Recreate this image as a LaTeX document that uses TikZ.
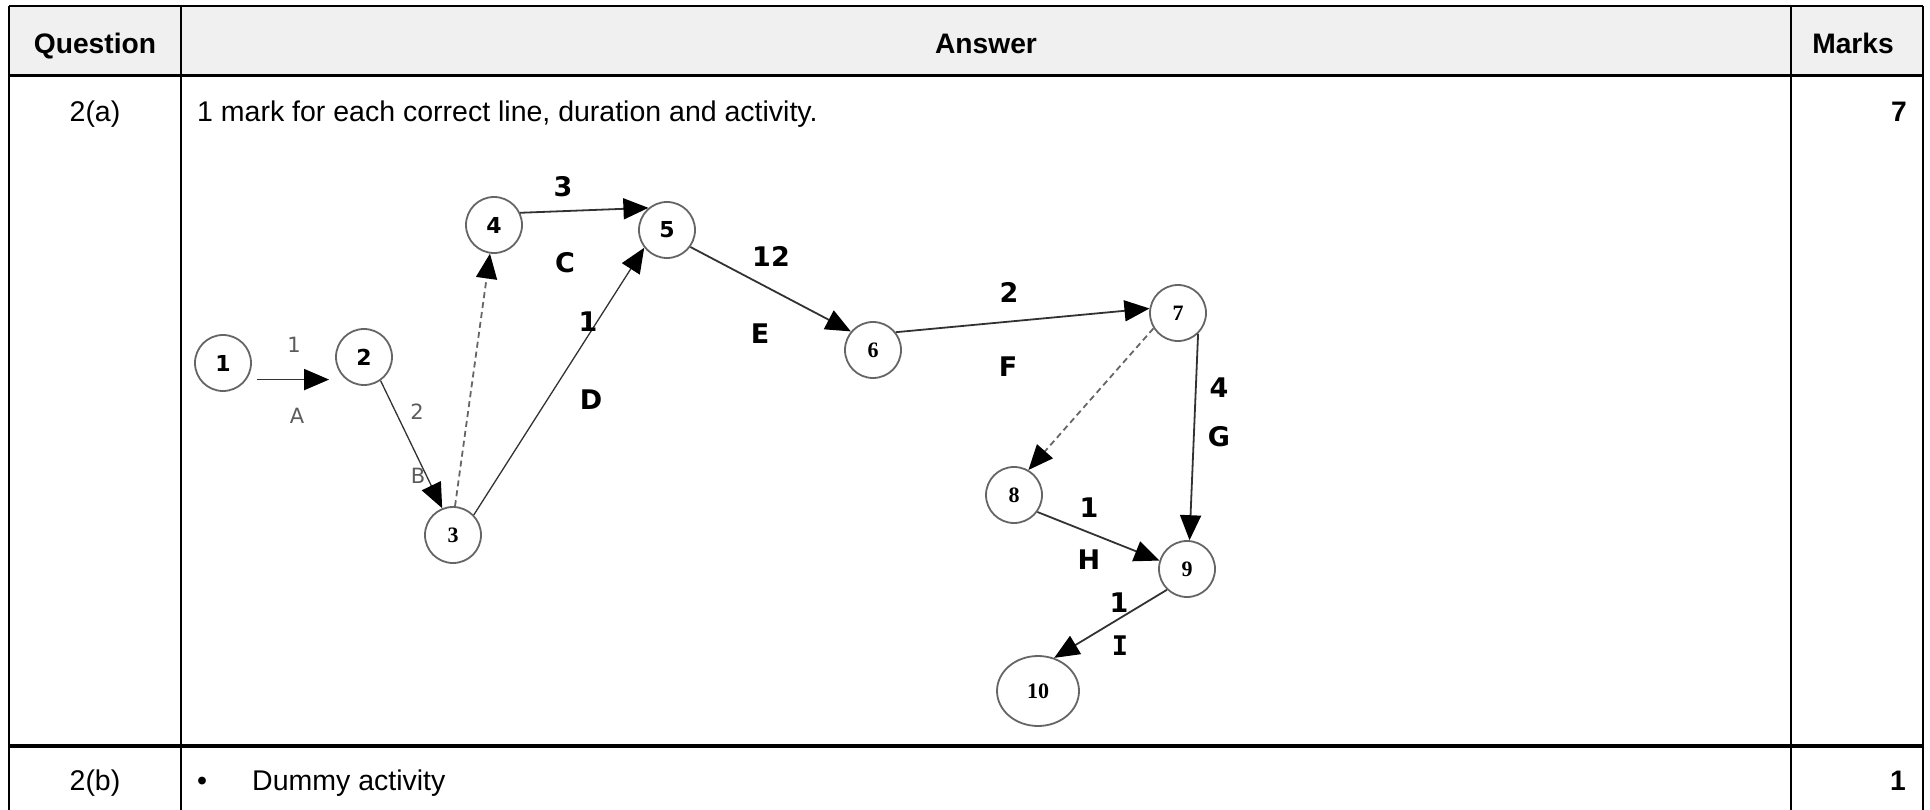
\documentclass[tikz,border=0pt]{standalone}
\usepackage{fontspec}
\setmainfont{Liberation Sans}
\newfontfamily\lblfont{DejaVu Sans}
\newfontfamily\numfont{Liberation Serif}
\newfontfamily\slabfont{DejaVu Sans Mono}
\usetikzlibrary{arrows.meta, shapes.geometric}
\definecolor{lineGray}{RGB}{50,50,50}
\definecolor{headGray}{RGB}{240,240,240}

\begin{document}
\begin{tikzpicture}[x=1pt, y=-1pt,
  txt/.style={inner sep=0pt, anchor=base, font=\fontsize{28.5}{34}\selectfont},
  evt/.style={circle, draw=lineGray!75, line width=1.8pt, minimum size=56pt, inner sep=0pt},
  act/.style={draw=lineGray, line width=1.8pt, -{Triangle[length=25pt, width=21pt, color=black]}},
  dummy/.style={act, draw=gray!80!black, dash pattern=on 6pt off 4pt},
  lbl/.style={inner sep=0pt, font=\lblfont\bfseries\fontsize{27}{27}\selectfont},
  lbllight/.style={inner sep=0pt, text=lineGray!80, font=\lblfont\fontsize{21}{21}\selectfont}]
  \useasboundingbox (0,0) rectangle (1930,810);

  % table frame
  \fill[headGray] (9,6) rectangle (1923,76);
  \draw[line width=1.5pt] (9,6) -- (1923,6);
  \draw[line width=2.5pt] (9,6) -- (9,810);
  \draw[line width=2.5pt] (1923,6) -- (1923,810);
  \draw[line width=2pt] (181,6) -- (181,810);
  \draw[line width=2pt] (1791,6) -- (1791,810);
  \draw[line width=3pt] (9,76) -- (1923,76);
  \draw[line width=3.5pt] (9,746) -- (1923,746);

  % table texts
  \node[txt, font=\bfseries\fontsize{28.2}{34}\selectfont] (hdq) at (95,54) {Question};
  \node[txt, font=\bfseries\fontsize{28.2}{34}\selectfont] (hda) at (986,54) {Answer};
  \node[txt, font=\bfseries\fontsize{28.2}{34}\selectfont] (hdm) at (1853,54) {Marks};
  \node[txt] (qa) at (95,122) {2(a)};
  \node[txt, anchor=base west] (ansa) at (197,122) {1 mark for each correct line, duration and activity.};
  \node[txt, anchor=base east, font=\bfseries\fontsize{28.2}{34}\selectfont] (mka) at (1907,122) {7};
  \node[txt] (qb) at (95,790) {2(b)};
  \node[txt] (bul) at (202,790) {•};
  \node[txt, anchor=base west] (ansb) at (252,790) {Dummy activity};
  \node[txt, anchor=base east, font=\bfseries\fontsize{28.2}{34}\selectfont] (mkb) at (1906,790) {1};

  % events
  \foreach \n/\x/\y/\f in {1/223/363/\lblfont, 2/364/357/\lblfont, 3/453/535/\numfont,
      4/494/225/\lblfont, 5/667/230/\lblfont, 6/873/350/\numfont, 7/1178/313/\numfont,
      8/1014/495/\numfont, 9/1187/569/\numfont}
    \node[evt, font=\f\bfseries\fontsize{22}{22}\selectfont] (n\n) at (\x,\y) {\n};
  \node[evt, ellipse, minimum width=82pt, minimum height=70pt,
    font=\numfont\bfseries\fontsize{22}{22}\selectfont] (n10) at (1038,691) {10};

  % activities
  \draw[act, shorten <=10pt, shorten >=6pt] (n1.-35) -- (n1.-35 -| n2.west);
  \draw[act, line width=1.3pt] (n2.-55) -- (n3.112);
  \draw[dummy] (n3.86) -- (n4.-98);
  \draw[act, line width=1.3pt] (n3.44) -- (n5.218);
  \draw[act] (n4.25) -- (n5.130);
  \draw[act] (n5.-36) -- (n6.140);
  \draw[act] (n6.38) -- (n7.171);
  \draw[dummy] (n7.212) -- (n8.60);
  \draw[act] (n7.-46) -- (n9.85);
  \draw[act] (n8.-36) -- (n9.163);
  \draw[act] (n9.226) -- (n10.64);

  % durations and activity letters
  \node[lbllight] (durA) at (294,345) {1};
  \node[lbllight] (actA) at (297,416) {A};
  \node[lbllight] (durB) at (417,412) {2};
  \node[lbllight] (actB) at (418,476) {B};
  \node[lbl] (durC) at (563,187) {3};
  \node[lbl] (actC) at (565,263) {C};
  \node[lbl] (durD) at (588,322) {1};
  \node[lbl] (actD) at (591,400) {D};
  \node[lbl] (durE) at (771,256) {12};
  \node[lbl] (actE) at (760,334) {E};
  \node[lbl] (durF) at (1009,292) {2};
  \node[lbl] (actF) at (1008,367) {F};
  \node[lbl] (durG) at (1219,388) {4};
  \node[lbl] (actG) at (1219,437) {G};
  \node[lbl] (durH) at (1089,508) {1};
  \node[lbl] (actH) at (1089,560) {H};
  \node[lbl] (durI) at (1119,603) {1};
  \node[lbl, font=\slabfont\bfseries\fontsize{27}{27}\selectfont] (actI) at (1120,646) {I};
\end{tikzpicture}
\end{document}
